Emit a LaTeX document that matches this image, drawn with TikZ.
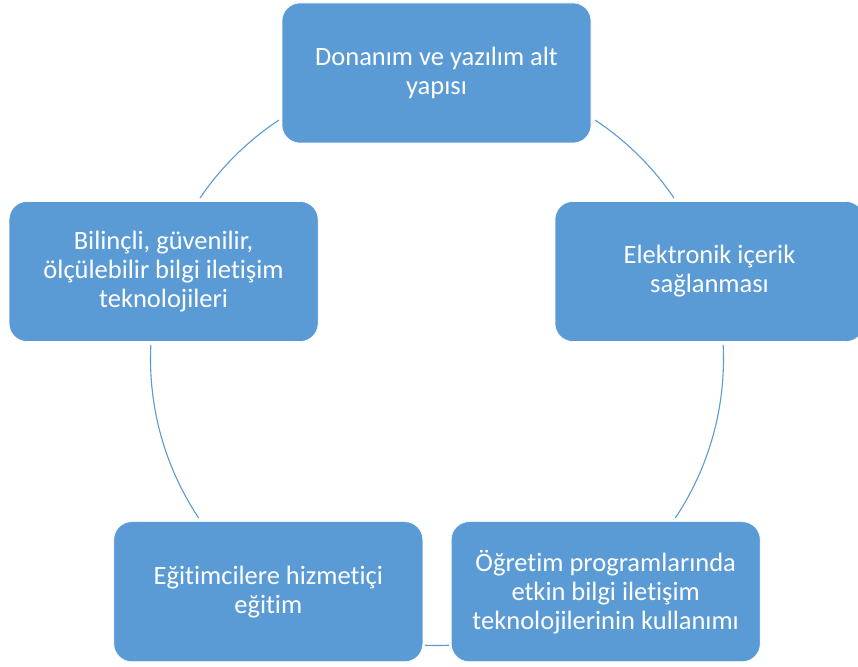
\documentclass[tikz,border=0pt]{standalone}
\usepackage{fontspec}
\setmainfont{Carlito}[Ligatures={NoCommon}]
\definecolor{officeblue}{HTML}{5B9BD5}
\begin{document}
\begin{tikzpicture}[x=1pt,y=1pt,
  box/.style={rectangle, rounded corners=18pt, fill=officeblue, draw=white, line width=0.6pt,
    minimum width=309pt, minimum height=140pt, text=white, align=center,
    font=\fontsize{26.5}{29}\selectfont, inner sep=0pt},
  conn/.style={draw=officeblue, line width=1.1pt}]
\clip (0,0) rectangle (858,666);
\fill[white] (0,0) rectangle (858,666);
\coordinate (c) at (437,307);
\def\R{286.5}
% connectors (circle arcs between the boxes)
\draw[conn] ([shift={(123.5:\R)}]c) arc[start angle=123.5, end angle=145.8, radius=\R];
\draw[conn] ([shift={(56.5:\R)}]c) arc[start angle=56.5, end angle=34.2, radius=\R];
\draw[conn] ([shift={(2.8:\R)}]c) arc[start angle=2.8, end angle=-33.7, radius=\R];
\draw[conn] ([shift={(-87.6:\R)}]c) arc[start angle=-87.6, end angle=-92.4, radius=\R];
\draw[conn] ([shift={(213.7:\R)}]c) arc[start angle=213.7, end angle=177.2, radius=\R];
% boxes
\node[box] (top) at (436.5,593) {Donanım ve yazılım alt\\yapısı};
\node[box] (right) at (709.5,394.5) {Elektronik içerik\\sağlanması};
\node[box] (bright) at (605.7,74.3) {Öğretim programlarında\\etkin bilgi iletişim\\teknolojilerinin kullanımı};
\node[box] (bleft) at (268.3,74.3) {Eğitimcilere hizmetiçi\\eğitim};
\node[box] (left) at (163.6,394.5) {Bilinçli, güvenilir,\\ölçülebilir bilgi iletişim\\teknolojileri};
\end{tikzpicture}
\end{document}
